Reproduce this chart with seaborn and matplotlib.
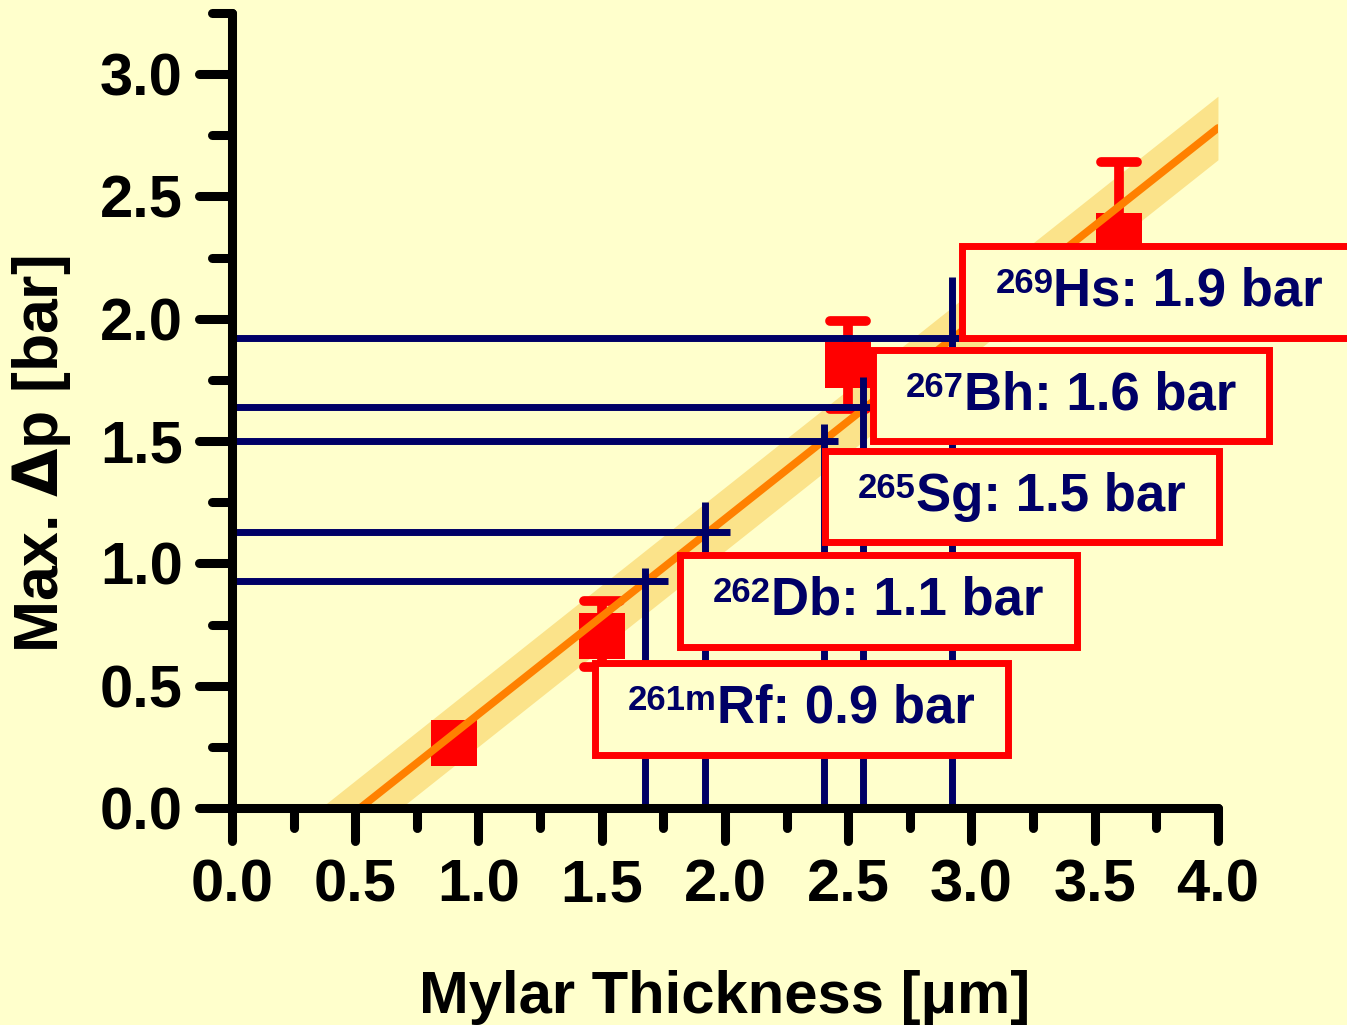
import matplotlib
matplotlib.use("Agg")
import matplotlib.pyplot as plt
from matplotlib import font_manager
from matplotlib.markers import MarkerStyle
from matplotlib.offsetbox import TextArea, HPacker, AnnotationBbox, DrawingArea
from matplotlib.ticker import MultipleLocator, FormatStrFormatter
import seaborn as sns

# measured max. pressure difference vs mylar thickness
thickness = [0.9, 1.5, 2.5, 3.6]
max_dp = [0.265, 0.705, 1.81, 2.34]
dp_err_low = [0.0, 0.13, 0.18, 0.30]
dp_err_high = [0.0, 0.14, 0.18, 0.30]

# linear fit + uncertainty band
fit_x = [0.52, 4.0]
fit_y = [0.0, 2.78]
band_x = [0.36, 4.0]
band_low = [-0.26, 2.65]
band_high = [0.0, 2.91]

# isotopes: required thickness / max dp read on the fit
mass_numbers = ['261m', '262', '265', '267', '269']
elements = ['Rf', 'Db', 'Sg', 'Bh', 'Hs']
dp_limit = ['0.9', '1.1', '1.5', '1.6', '1.9']
cross_dp = [0.93, 1.13, 1.50, 1.64, 1.92]
cross_thickness = [1.675, 1.92, 2.40, 2.56, 2.92]
hline_end = [1.77, 2.02, 2.46, 2.60, 3.16]
vline_top = [0.98, 1.25, 1.57, 1.76, 2.17]

# label box centres (data coords)
box_x = [2.310, 2.621, 3.205, 3.404, 3.762]
box_y = [0.405, 0.847, 1.273, 1.686, 2.110]

bg = '#FFFFCC'
navy = '#000066'

sns.set_style("ticks")
plt.rcParams['font.family'] = ['Liberation Sans', 'DejaVu Sans']
plt.rcParams['font.weight'] = 'bold'
plt.rcParams['mathtext.fontset'] = 'custom'
plt.rcParams['mathtext.rm'] = 'DejaVu Sans'

installed = {f.name for f in font_manager.fontManager.ttflist}
if 'Liberation Sans Narrow' in installed:
    xlabel_font = dict(family=['Liberation Sans Narrow', 'Liberation Sans'], size=50)
else:
    xlabel_font = dict(family=['Liberation Sans', 'DejaVu Sans'], size=43)

fig = plt.figure(figsize=(13.47, 10.25), dpi=100)
fig.patch.set_facecolor(bg)
ax = fig.add_axes([0.1722, 0.2117, 0.7320, 0.7756])
ax.set_facecolor(bg)

# band and fit
ax.fill_between(band_x, band_low, band_high, color='#FBE38A', linewidth=0, zorder=1)
sns.scatterplot(x=thickness, y=max_dp, marker='s', s=33 ** 2, color='red',
                linewidth=0, ax=ax, zorder=2)
_, caps, bars = ax.errorbar(thickness, max_dp, yerr=[dp_err_low, dp_err_high], fmt='none',
                            ecolor='red', elinewidth=7, capsize=13, capthick=7, zorder=2)
for c in caps:
    c.set_marker(MarkerStyle('_', capstyle='round'))
sns.lineplot(x=fit_x, y=fit_y, color='#FF8000', linewidth=5.5, ax=ax, zorder=2.2)

# crosshairs
ax.hlines(cross_dp, 0, hline_end, color=navy, linewidth=5, zorder=2.3)
ax.vlines(cross_thickness, 0, vline_top, color=navy, linewidth=5, zorder=2.3)

# labelled boxes
for mass, el, val, bx, by in zip(mass_numbers, elements, dp_limit, box_x, box_y):
    sup = TextArea(mass, textprops=dict(color=navy, fontsize=25, fontweight='bold'))
    main = TextArea(f"{el}: {val} bar", textprops=dict(color=navy, fontsize=38, fontweight='bold'))
    pack = HPacker(children=[DrawingArea(9, 1), sup, main, DrawingArea(9, 1)],
                   align='top', pad=0, sep=0)
    ab = AnnotationBbox(pack, (bx, by), xycoords='data', box_alignment=(0.5, 0.5),
                        frameon=True, pad=1.5, fontsize=10, annotation_clip=False,
                        bboxprops=dict(edgecolor='red', facecolor=bg, linewidth=5),
                        zorder=5)
    ax.add_artist(ab)

ax.set_xlim(0, 4.0)
ax.set_ylim(0, 3.25)
ax.xaxis.set_major_locator(MultipleLocator(0.5))
ax.xaxis.set_minor_locator(MultipleLocator(0.25))
ax.yaxis.set_major_locator(MultipleLocator(0.5))
ax.yaxis.set_minor_locator(MultipleLocator(0.25))
ax.xaxis.set_major_formatter(FormatStrFormatter('%.1f'))
ax.yaxis.set_major_formatter(FormatStrFormatter('%.1f'))

for side in ['top', 'right']:
    ax.spines[side].set_visible(False)
for side in ['left', 'bottom']:
    ax.spines[side].set_linewidth(6.5)
    ax.spines[side].set_color('black')
    ax.spines[side].set_capstyle('round')

ax.tick_params(which='major', length=24, width=6.5, direction='out', labelsize=43,
               colors='black')
ax.tick_params(which='minor', length=14.5, width=6.5, direction='out', colors='black')
ax.tick_params(axis='x', which='major', pad=12)
ax.tick_params(axis='y', which='major', pad=11.5)
for lab in ax.get_xticklabels() + ax.get_yticklabels():
    lab.set_fontweight('bold')

# rounded tick ends
for axis in [ax.xaxis, ax.yaxis]:
    for t in axis.get_major_ticks() + axis.get_minor_ticks():
        t.tick1line.set_marker(MarkerStyle(t.tick1line.get_marker(), capstyle='round'))

ax.set_xlabel('Mylar Thickness [μm]', fontweight='bold', color='black', **xlabel_font)
ax.set_ylabel(r'Max. $\mathrm{\Delta}$p [bar]', fontweight='bold', fontsize=45, color='black')
ax.xaxis.set_label_coords(0.5, -0.204)
ax.yaxis.set_label_coords(-0.161, 0.445)

fig.savefig('out.png', dpi=100, facecolor=bg)
